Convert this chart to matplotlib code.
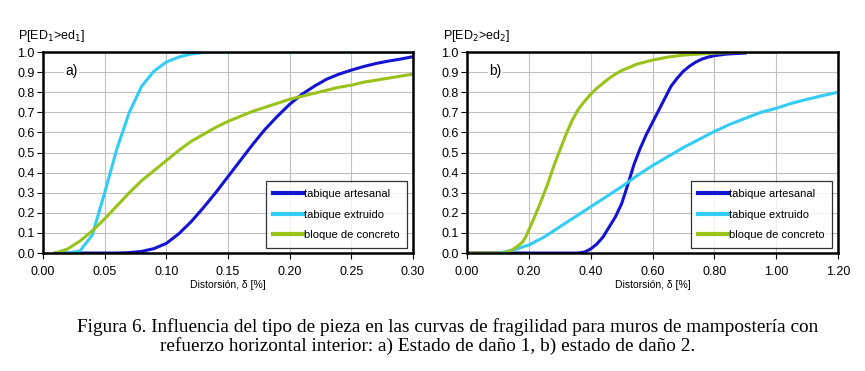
import matplotlib
matplotlib.use("Agg")
import matplotlib.pyplot as plt

# ---- data: panel a) damage state 1 ----
x_a = [0.01, 0.02, 0.03, 0.04, 0.05, 0.06, 0.07, 0.08, 0.09, 0.10,
       0.11, 0.12, 0.13, 0.14, 0.15, 0.16, 0.17, 0.18, 0.19, 0.20,
       0.21, 0.22, 0.23, 0.24, 0.25, 0.26, 0.27, 0.28, 0.29, 0.30]
artesanal_a = [0.0, 0.0, 0.0, 0.0, 0.0, 0.0, 0.002, 0.008, 0.022, 0.048,
               0.095, 0.155, 0.225, 0.30, 0.38, 0.46, 0.54, 0.615, 0.68, 0.74,
               0.79, 0.83, 0.865, 0.89, 0.91, 0.928, 0.943, 0.955, 0.965, 0.977]
extruido_a = [0.0, 0.0, 0.01, 0.09, 0.30, 0.52, 0.70, 0.83, 0.905, 0.95,
              0.975, 0.99, 0.998, 1.0, 1.0, 1.0, 1.0, 1.0, 1.0, 1.0,
              1.0, 1.0, 1.0, 1.0, 1.0, 1.0, 1.0, 1.0, 1.0, 1.0]
concreto_a = [0.0, 0.02, 0.06, 0.11, 0.17, 0.235, 0.30, 0.36, 0.41, 0.46,
              0.51, 0.555, 0.59, 0.625, 0.655, 0.68, 0.705, 0.725, 0.745, 0.765,
              0.78, 0.795, 0.81, 0.825, 0.835, 0.85, 0.86, 0.87, 0.88, 0.89]

# ---- data: panel b) damage state 2 ----
x_b_art = [0.0, 0.36, 0.38, 0.40, 0.42, 0.44, 0.46, 0.48, 0.50, 0.52, 0.54,
           0.56, 0.58, 0.60, 0.62, 0.64, 0.66, 0.68, 0.70, 0.72, 0.74,
           0.76, 0.78, 0.80, 0.84, 0.90]
artesanal_b = [0.0, 0.0, 0.005, 0.02, 0.045, 0.08, 0.13, 0.18, 0.245, 0.34, 0.44,
               0.52, 0.59, 0.65, 0.71, 0.77, 0.83, 0.87, 0.905, 0.93, 0.95,
               0.965, 0.975, 0.982, 0.99, 0.995]
x_b_ext = [0.10, 0.12, 0.15, 0.20, 0.25, 0.30, 0.35, 0.40, 0.45, 0.50, 0.55,
           0.60, 0.65, 0.70, 0.75, 0.80, 0.85, 0.90, 0.95, 1.00, 1.05,
           1.10, 1.15, 1.20]
extruido_b = [0.0, 0.005, 0.015, 0.04, 0.08, 0.13, 0.18, 0.23, 0.28, 0.33, 0.385,
              0.435, 0.48, 0.525, 0.565, 0.605, 0.64, 0.67, 0.70, 0.72, 0.745,
              0.765, 0.783, 0.80]
x_b_con = [0.0, 0.12, 0.14, 0.16, 0.18, 0.19, 0.20, 0.22, 0.24, 0.25, 0.26,
           0.28, 0.30, 0.32, 0.34, 0.36, 0.38, 0.40, 0.42, 0.44, 0.46,
           0.48, 0.50, 0.55, 0.60, 0.65, 0.70, 0.75, 0.80, 0.90, 1.00]
concreto_b = [0.0, 0.0, 0.01, 0.03, 0.055, 0.08, 0.115, 0.185, 0.26, 0.30, 0.34,
              0.43, 0.51, 0.59, 0.66, 0.715, 0.755, 0.79, 0.82, 0.845, 0.87,
              0.89, 0.908, 0.94, 0.96, 0.975, 0.985, 0.99, 0.995, 1.0, 1.0]

labels = ["tabique artesanal", "tabique extruido", "bloque de concreto"]
c_art, c_ext, c_con = "#1414d2", "#33ccf5", "#99c21a"

xticks_a = [0.00, 0.05, 0.10, 0.15, 0.20, 0.25, 0.30]
xticks_b = [0.00, 0.20, 0.40, 0.60, 0.80, 1.00, 1.20]
yticks = [0.0, 0.1, 0.2, 0.3, 0.4, 0.5, 0.6, 0.7, 0.8, 0.9, 1.0]

plt.rcParams['font.family'] = ['Liberation Sans', 'DejaVu Sans']

fig = plt.figure(figsize=(8.65, 3.71), dpi=100)
ax1 = fig.add_axes([0.0497, 0.318, 0.4277, 0.5417])
ax2 = fig.add_axes([0.5399, 0.318, 0.4289, 0.5417])

def style(ax, xticks, xlim, fmt):
    ax.set_xlim(*xlim)
    ax.set_ylim(0, 1.0)
    ax.set_xticks(xticks)
    ax.set_xticklabels([fmt.format(v) for v in xticks], fontsize=9)
    ax.set_yticks(yticks)
    ax.set_yticklabels(["{:.1f}".format(v) for v in yticks], fontsize=9)
    ax.grid(True, color="#c0c0c0", linewidth=0.8)
    ax.set_axisbelow(True)
    for s in ax.spines.values():
        s.set_linewidth(1.8)
        s.set_color("black")
    ax.tick_params(axis="y", direction="out", length=4, width=0.8, pad=2)
    ax.tick_params(axis="x", direction="out", length=4, width=0.8, pad=5)
    ax.set_xlabel("Distorsión, δ [%]", fontsize=7.5, labelpad=2)

ax1.plot(x_a, artesanal_a, color=c_art, lw=2.2, label=labels[0])
ax1.plot(x_a, extruido_a, color=c_ext, lw=2.2, label=labels[1])
ax1.plot(x_a, concreto_a, color=c_con, lw=2.2, label=labels[2])
style(ax1, xticks_a, (0, 0.30), "{:.2f}")

ax2.plot(x_b_art, artesanal_b, color=c_art, lw=2.2, label=labels[0])
ax2.plot(x_b_ext, extruido_b, color=c_ext, lw=2.2, label=labels[1])
ax2.plot(x_b_con, concreto_b, color=c_con, lw=2.2, label=labels[2])
style(ax2, xticks_b, (0, 1.20), "{:.2f}")

for ax, txt in ((ax1, "a)"), (ax2, "b)")):
    ax.text(0.06, 0.905, txt, transform=ax.transAxes, fontsize=10,
            va="center", ha="left",
            bbox=dict(facecolor="white", edgecolor="none", pad=1))
    leg = ax.legend(loc="lower right", fontsize=8, frameon=True, fancybox=False,
                    edgecolor="black", handlelength=2.7, handletextpad=0.05,
                    labelspacing=0.95, borderpad=0.7, borderaxespad=0,
                    bbox_to_anchor=(0.985, 0.025))
    leg.get_frame().set_linewidth(0.9)
    for h in leg.get_lines():
        h.set_linewidth(3.0)

fig.text(18/865, 1 - 36/371, "P[ED$_1$>ed$_1$]", fontsize=9, va="center", ha="left")
fig.text(443/865, 1 - 36/371, "P[ED$_2$>ed$_2$]", fontsize=9, va="center", ha="left")

serif = ["Liberation Serif", "DejaVu Serif"]
fig.text(77/865, 1 - 327/371,
         "Figura 6. Influencia del tipo de pieza en las curvas de fragilidad para muros de mampostería con",
         fontsize=13.9, family=serif, va="center", ha="left")
fig.text(160/865, 1 - 346/371,
         "refuerzo horizontal interior: a) Estado de daño 1, b) estado de daño 2.",
         fontsize=13.9, family=serif, va="center", ha="left")

fig.savefig("out.png", dpi=100)
